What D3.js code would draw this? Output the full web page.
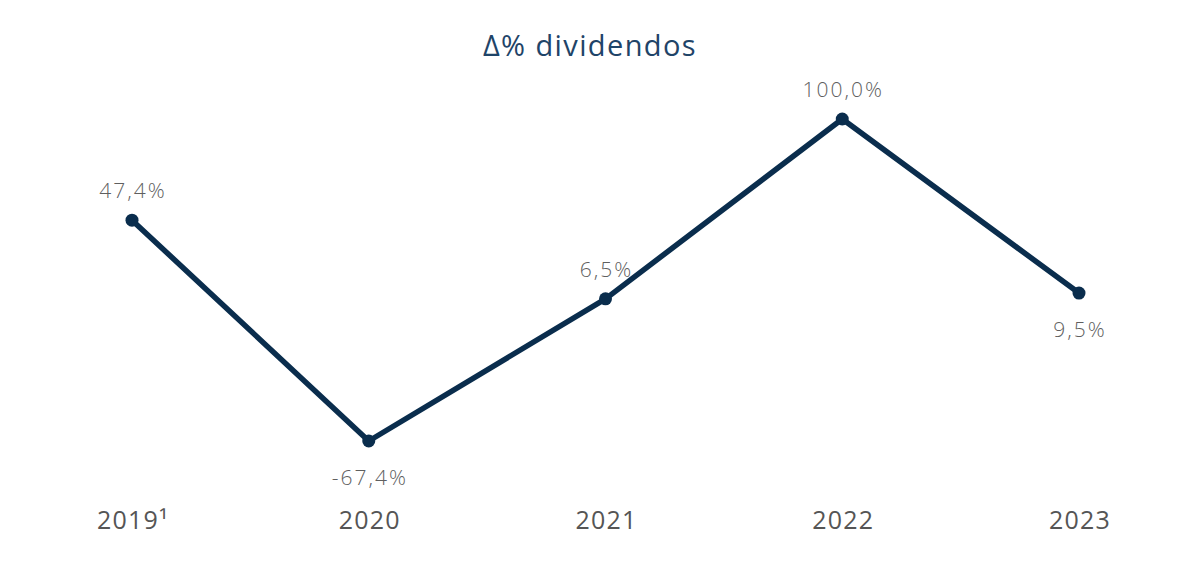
<!DOCTYPE html>
<html>
<head>
<meta charset="utf-8">
<script src="https://cdn.jsdelivr.net/npm/d3@7"></script>
<style>
  body { margin: 0; background: #fff; }
  svg { display: block; font-family: "Open Sans", sans-serif; }
  .title { fill: #1f4468; font-size: 29px; font-weight: 400; letter-spacing: 1.4px; }
  .val { fill: #5f5f5f; font-size: 21px; font-weight: 300; letter-spacing: 2px; }
  .year { fill: #555; font-size: 25px; font-weight: 500; letter-spacing: 1.2px; }
</style>
</head>
<body>
<svg width="1178" height="579"></svg>
<script>
const years = ["2019¹", "2020", "2021", "2022", "2023"];
const values = [47.4, -67.4, 6.5, 100.0, 9.5];
const labels = ["47,4%", "-67,4%", "6,5%", "100,0%", "9,5%"];
const labelBelow = [false, true, false, false, true];

const svg = d3.select("svg");

const x = d3.scalePoint().domain(years).range([132, 1079]);
const y = d3.scaleLinear().domain([-67.4, 100]).range([441, 119]);

svg.append("text")
  .attr("class", "title")
  .attr("x", 590)
  .attr("y", 56)
  .attr("text-anchor", "middle")
  .text("Δ% dividendos");

const pts = years.map((d, i) => ({ year: d, v: values[i], label: labels[i], below: labelBelow[i] }));

const line = d3.line()
  .x(d => x(d.year))
  .y(d => y(d.v));

svg.append("path")
  .datum(pts)
  .attr("d", line)
  .attr("fill", "none")
  .attr("stroke", "#0a2d4d")
  .attr("stroke-width", 5.5)
  .attr("stroke-linejoin", "round");

svg.selectAll("circle.dot")
  .data(pts)
  .enter()
  .append("circle")
  .attr("class", "dot")
  .attr("cx", d => x(d.year))
  .attr("cy", d => y(d.v))
  .attr("r", 6.5)
  .attr("fill", "#0a2d4d");

svg.selectAll("text.val")
  .data(pts)
  .enter()
  .append("text")
  .attr("class", "val")
  .attr("x", d => x(d.year) + 1)
  .attr("y", d => y(d.v) + (d.below ? 44 : -22))
  .attr("text-anchor", "middle")
  .text(d => d.label);

svg.selectAll("text.year")
  .data(pts)
  .enter()
  .append("text")
  .attr("class", "year")
  .attr("x", d => x(d.year) + 1)
  .attr("y", 529)
  .attr("text-anchor", "middle")
  .text(d => d.year);
</script>
</body>
</html>
